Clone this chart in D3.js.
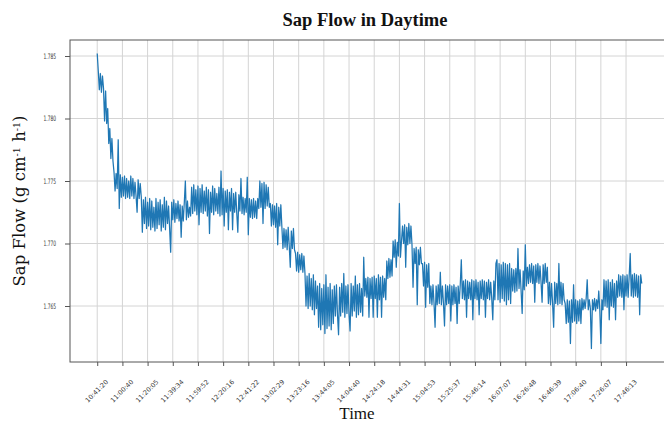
<!DOCTYPE html>
<html>
<head>
<meta charset="utf-8">
<script src="https://cdn.jsdelivr.net/npm/d3@7"></script>
<style>
  html, body { margin: 0; padding: 0; background: #fff; }
  svg { display: block; }
</style>
</head>
<body>
<svg id="chart" width="664" height="425"></svg>
<script>
// ---- data ----
const sapFlow = [
  1.7852, 1.7838, 1.7823, 1.7836, 1.7821, 1.7834, 1.7824, 1.7798, 1.7822, 1.7796,
  1.7808, 1.7780, 1.7792, 1.7768, 1.7784, 1.7766, 1.7757, 1.7742, 1.7756, 1.7744,
  1.7783, 1.7728, 1.7755, 1.7737, 1.7753, 1.7738, 1.7754, 1.7736, 1.7752, 1.7737,
  1.7750, 1.7736, 1.7754, 1.7738, 1.7752, 1.7736, 1.7749, 1.7738, 1.7725, 1.7751,
  1.7736, 1.7748, 1.7737, 1.7709, 1.7735, 1.7716, 1.7737, 1.7712, 1.7733, 1.7714,
  1.7736, 1.7711, 1.7734, 1.7713, 1.7729, 1.7710, 1.7736, 1.7712, 1.7733, 1.7715,
  1.7735, 1.7710, 1.7731, 1.7713, 1.7737, 1.7711, 1.7734, 1.7716, 1.7730, 1.7712,
  1.7693, 1.7733, 1.7719, 1.7735, 1.7717, 1.7732, 1.7720, 1.7734, 1.7718, 1.7731,
  1.7705, 1.7730, 1.7718, 1.7733, 1.7750, 1.7719, 1.7734, 1.7721, 1.7729, 1.7722,
  1.7745, 1.7724, 1.7747, 1.7726, 1.7743, 1.7723, 1.7746, 1.7715, 1.7744, 1.7725,
  1.7747, 1.7724, 1.7742, 1.7726, 1.7745, 1.7722, 1.7743, 1.7708, 1.7741, 1.7725,
  1.7746, 1.7723, 1.7744, 1.7726, 1.7740, 1.7724, 1.7745, 1.7722, 1.7758, 1.7723,
  1.7744, 1.7714, 1.7742, 1.7725, 1.7743, 1.7711, 1.7741, 1.7726, 1.7744, 1.7711,
  1.7740, 1.7725, 1.7741, 1.7724, 1.7709, 1.7739, 1.7726, 1.7752, 1.7724, 1.7737,
  1.7723, 1.7736, 1.7725, 1.7753, 1.7707, 1.7736, 1.7721, 1.7735, 1.7720, 1.7736,
  1.7721, 1.7734, 1.7720, 1.7736, 1.7728, 1.7750, 1.7729, 1.7748, 1.7716, 1.7749,
  1.7728, 1.7747, 1.7730, 1.7745, 1.7729, 1.7732, 1.7714, 1.7731, 1.7715, 1.7730,
  1.7713, 1.7732, 1.7699, 1.7729, 1.7714, 1.7731, 1.7713, 1.7696, 1.7712, 1.7697,
  1.7711, 1.7695, 1.7713, 1.7698, 1.7681, 1.7710, 1.7696, 1.7712, 1.7695, 1.7692,
  1.7678, 1.7693, 1.7677, 1.7691, 1.7679, 1.7692, 1.7677, 1.7690, 1.7676, 1.7650,
  1.7674, 1.7648, 1.7676, 1.7650, 1.7672, 1.7647, 1.7675, 1.7643, 1.7670, 1.7648,
  1.7666, 1.7633, 1.7668, 1.7631, 1.7664, 1.7635, 1.7667, 1.7628, 1.7675, 1.7632,
  1.7665, 1.7634, 1.7668, 1.7631, 1.7663, 1.7636, 1.7666, 1.7642, 1.7667, 1.7643,
  1.7627, 1.7665, 1.7642, 1.7668, 1.7645, 1.7676, 1.7641, 1.7666, 1.7644, 1.7667,
  1.7643, 1.7630, 1.7668, 1.7642, 1.7666, 1.7646, 1.7674, 1.7641, 1.7667, 1.7643,
  1.7668, 1.7645, 1.7664, 1.7642, 1.7689, 1.7658, 1.7672, 1.7657, 1.7673, 1.7641,
  1.7672, 1.7656, 1.7673, 1.7641, 1.7674, 1.7656, 1.7672, 1.7641, 1.7675, 1.7655,
  1.7673, 1.7641, 1.7674, 1.7657, 1.7672, 1.7655, 1.7686, 1.7672, 1.7688, 1.7673,
  1.7687, 1.7674, 1.7702, 1.7689, 1.7703, 1.7681, 1.7701, 1.7690, 1.7732, 1.7689,
  1.7702, 1.7714, 1.7700, 1.7715, 1.7681, 1.7713, 1.7699, 1.7716, 1.7700, 1.7714,
  1.7699, 1.7665, 1.7696, 1.7684, 1.7697, 1.7651, 1.7695, 1.7683, 1.7697, 1.7684,
  1.7684, 1.7666, 1.7685, 1.7649, 1.7683, 1.7665, 1.7684, 1.7652, 1.7666, 1.7651,
  1.7667, 1.7652, 1.7633, 1.7666, 1.7651, 1.7667, 1.7652, 1.7677, 1.7651, 1.7666,
  1.7652, 1.7634, 1.7667, 1.7651, 1.7666, 1.7652, 1.7667, 1.7638, 1.7666, 1.7651,
  1.7667, 1.7652, 1.7665, 1.7636, 1.7666, 1.7652, 1.7667, 1.7687, 1.7656, 1.7670,
  1.7655, 1.7671, 1.7641, 1.7670, 1.7656, 1.7669, 1.7655, 1.7671, 1.7639, 1.7670,
  1.7656, 1.7671, 1.7655, 1.7669, 1.7643, 1.7670, 1.7656, 1.7671, 1.7655, 1.7670,
  1.7641, 1.7669, 1.7656, 1.7671, 1.7655, 1.7669, 1.7656, 1.7639, 1.7670, 1.7655,
  1.7684, 1.7687, 1.7655, 1.7684, 1.7653, 1.7683, 1.7656, 1.7685, 1.7654, 1.7684,
  1.7651, 1.7683, 1.7655, 1.7684, 1.7652, 1.7680, 1.7662, 1.7679, 1.7661, 1.7680,
  1.7662, 1.7696, 1.7664, 1.7679, 1.7662, 1.7644, 1.7678, 1.7663, 1.7699, 1.7666,
  1.7681, 1.7668, 1.7683, 1.7669, 1.7684, 1.7668, 1.7682, 1.7653, 1.7683, 1.7669,
  1.7684, 1.7668, 1.7682, 1.7669, 1.7653, 1.7683, 1.7668, 1.7684, 1.7669, 1.7681,
  1.7652, 1.7669, 1.7651, 1.7668, 1.7652, 1.7633, 1.7669, 1.7652, 1.7668, 1.7651,
  1.7684, 1.7652, 1.7669, 1.7651, 1.7668, 1.7655, 1.7652, 1.7636, 1.7655, 1.7637,
  1.7654, 1.7620, 1.7655, 1.7637, 1.7667, 1.7638, 1.7655, 1.7636, 1.7654, 1.7638,
  1.7655, 1.7636, 1.7656, 1.7647, 1.7655, 1.7648, 1.7656, 1.7671, 1.7647, 1.7655,
  1.7648, 1.7616, 1.7655, 1.7647, 1.7656, 1.7646, 1.7655, 1.7648, 1.7662, 1.7647,
  1.7620, 1.7655, 1.7647, 1.7671, 1.7650, 1.7670, 1.7649, 1.7671, 1.7639, 1.7669,
  1.7650, 1.7671, 1.7649, 1.7668, 1.7639, 1.7670, 1.7657, 1.7675, 1.7658, 1.7674,
  1.7657, 1.7675, 1.7647, 1.7674, 1.7658, 1.7675, 1.7657, 1.7674, 1.7692, 1.7658,
  1.7675, 1.7657, 1.7676, 1.7658, 1.7675, 1.7657, 1.7674, 1.7643, 1.7675, 1.7668
];
const timeTickLabels = [
  "10:41:20", "11:00:40", "11:20:05", "11:39:34", "11:59:52", "12:20:16",
  "12:41:22", "13:02:29", "13:23:16", "13:44:05", "14:04:40", "14:24:18",
  "14:44:31", "15:04:53", "15:25:37", "15:46:14", "16:07:07", "16:26:48",
  "16:46:39", "17:06:40", "17:26:07", "17:46:13"
];
const samplesPerTick = 24;
const yTickValues = [1.765, 1.770, 1.775, 1.780, 1.785];
const yLimits = [1.76052, 1.78628];
const titleText = "Sap Flow in Daytime";
const xLabelText = "Time";

// ---- layout ----
const plot = { left: 70, right: 669, top: 40, bottom: 362 };
const svg = d3.select("#chart");

const n = sapFlow.length;
const x = d3.scaleLinear()
  .domain([-0.05 * (n - 1), 1.05 * (n - 1)])
  .range([plot.left, plot.right]);
const y = d3.scaleLinear().domain(yLimits).range([plot.bottom, plot.top]);

const xTickIdx = timeTickLabels.map((_, k) => k * samplesPerTick);

// grid
const grid = svg.append("g");
grid.selectAll("line.vg").data(xTickIdx).join("line")
  .attr("x1", d => x(d)).attr("x2", d => x(d))
  .attr("y1", plot.top).attr("y2", plot.bottom)
  .attr("stroke", "#d4d4d4").attr("stroke-width", 1);
grid.selectAll("line.hg").data(yTickValues).join("line")
  .attr("x1", plot.left).attr("x2", plot.right)
  .attr("y1", d => y(d)).attr("y2", d => y(d))
  .attr("stroke", "#d4d4d4").attr("stroke-width", 1);

// line
const line = d3.line().x((d, i) => x(i)).y(d => y(d));
svg.append("path").datum(sapFlow)
  .attr("d", line)
  .attr("fill", "none")
  .attr("stroke", "#1f77b4")
  .attr("stroke-width", 1.25)
  .attr("stroke-linejoin", "round");

// frame
svg.append("rect")
  .attr("x", plot.left).attr("y", plot.top)
  .attr("width", plot.right - plot.left).attr("height", plot.bottom - plot.top)
  .attr("fill", "none").attr("stroke", "#555").attr("stroke-width", 1);

// y axis
const yAxis = d3.axisLeft(y).tickValues(yTickValues).tickFormat(d3.format(".3f"))
  .tickSize(5).tickPadding(9);
const gy = svg.append("g").attr("transform", `translate(${plot.left},0)`).call(yAxis);
gy.select(".domain").remove();
gy.selectAll(".tick line").attr("stroke", "#555");
gy.selectAll(".tick text")
  .attr("font-family", "DejaVu Sans, sans-serif")
  .attr("font-size", 7.5)
  .attr("fill", "#333")
  .attr("textLength", 12.5)
  .attr("lengthAdjust", "spacingAndGlyphs");

// x axis
const xAxis = d3.axisBottom(x).tickValues(xTickIdx)
  .tickFormat((d, i) => timeTickLabels[i]).tickSize(4);
const gx = svg.append("g").attr("transform", `translate(0,${plot.bottom})`).call(xAxis);
gx.select(".domain").remove();
gx.selectAll(".tick line").attr("stroke", "#555");
gx.selectAll(".tick text")
  .attr("font-family", "DejaVu Sans, sans-serif")
  .attr("font-size", 6.5)
  .attr("fill", "#333")
  .attr("text-anchor", "middle")
  .attr("dy", "0.35em")
  .attr("y", 0)
  .attr("transform", "translate(-1,29) rotate(-45)");

// title
svg.append("text")
  .attr("x", 365).attr("y", 26)
  .attr("text-anchor", "middle")
  .attr("font-family", "Liberation Serif, serif")
  .attr("font-weight", "bold")
  .attr("font-size", 18.5)
  .attr("fill", "#111")
  .text(titleText);

// x label
svg.append("text")
  .attr("x", 357).attr("y", 419)
  .attr("text-anchor", "middle")
  .attr("font-family", "Liberation Serif, serif")
  .attr("font-size", 17)
  .attr("fill", "#111")
  .text(xLabelText);

// y label with superscripts
const yl = svg.append("text")
  .attr("transform", "translate(25,201) rotate(-90)")
  .attr("text-anchor", "middle")
  .attr("font-family", "DejaVu Serif, serif")
  .attr("font-size", 16.5)
  .attr("fill", "#111");
yl.append("tspan").text("Sap Flow (g cm");
yl.append("tspan").attr("baseline-shift", "super").attr("font-size", 9.5).text("-1");
yl.append("tspan").text(" h");
yl.append("tspan").attr("baseline-shift", "super").attr("font-size", 9.5).text("-1");
yl.append("tspan").text(")");
</script>
</body>
</html>
